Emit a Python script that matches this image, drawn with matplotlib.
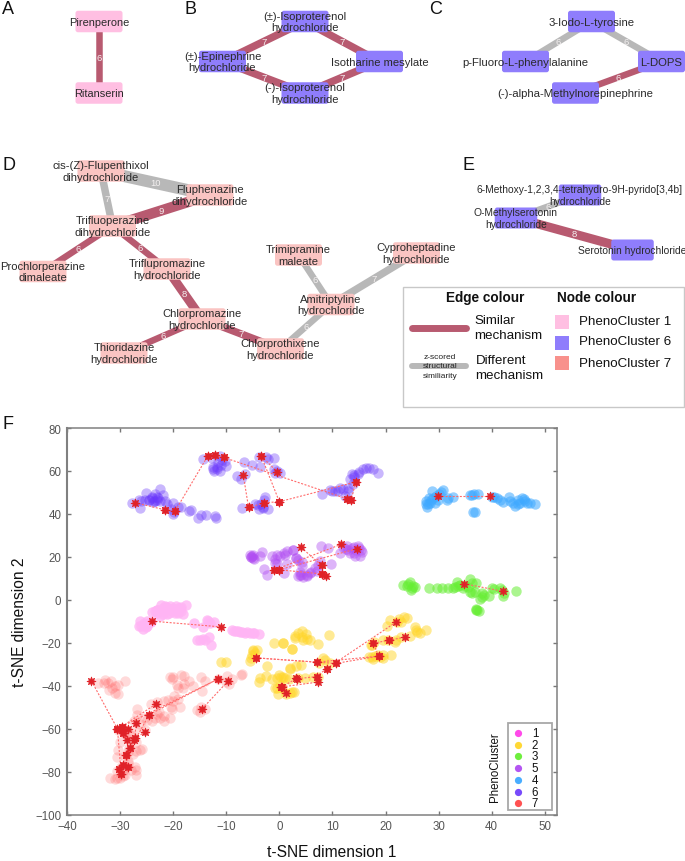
import matplotlib
matplotlib.use("Agg")
import matplotlib.pyplot as plt
from matplotlib.patches import FancyBboxPatch, Rectangle

plt.rcParams['font.family'] = ['Liberation Sans', 'DejaVu Sans']

# ---------- network data ----------
node_names_a = ["Pirenperone", "Ritanserin"]
node_x_a = [99, 99]
node_y_a = [22.5, 94]
edges_a = [(0, 1, 6, "s")]

node_names_b = ["(±)-Isoproterenol\nhydrochloride", "(±)-Epinephrine\nhydrochloride",
                "(-)-Isoproterenol\nhydrochloride", "Isotharine mesylate"]
node_x_b = [305, 222.5, 305, 379.5]
node_y_b = [22.5, 62.5, 94, 62.5]
edges_b = [(0, 1, 7, "s"), (1, 2, 7, "s"), (0, 3, 7, "s"), (2, 3, 7, "s")]

node_names_c = ["3-Iodo-L-tyrosine", "p-Fluoro-L-phenylalanine", "L-DOPS",
                "(-)-alpha-Methylnorepinephrine"]
node_x_c = [591.5, 525.5, 661.5, 575.5]
node_y_c = [22.5, 62.5, 62.5, 94]
edges_c = [(0, 1, 6, "d"), (0, 2, 6, "d"), (2, 3, 6, "s")]

node_names_d = ["cis-(Z)-Flupenthixol\ndihydrochloride", "Fluphenazine\ndihydrochloride",
                "Trifluoperazine\ndihydrochloride", "Prochlorperazine\ndimaleate",
                "Triflupromazine\nhydrochloride", "Chlorpromazine\nhydrochloride",
                "Thioridazine\nhydrochloride", "Chlorprothixene\nhydrochloride",
                "Amitriptyline\nhydrochloride", "Trimipramine\nmaleate",
                "Cyproheptadine\nhydrochloride"]
node_x_d = [101, 210, 112.5, 43, 167, 202, 124, 280.5, 331, 298.5, 416.5]
node_y_d = [172, 196, 227, 272.5, 270, 320, 354, 350, 305.5, 256, 254]
edges_d = [(0, 1, 10, "d"), (0, 2, 7, "d"), (1, 2, 9, "s"), (2, 3, 6, "s"), (2, 4, 6, "s"),
           (4, 5, 8, "s"), (5, 6, 6, "s"), (5, 7, 7, "s"), (7, 8, 6, "d"), (8, 9, 6, "d"),
           (8, 10, 7, "d")]

node_names_e = ["6-Methoxy-1,2,3,4-tetrahydro-9H-pyrido[3,4b]\nhydrochloride",
                "O-Methylserotonin\nhydrochloride", "Serotonin hydrochloride"]
node_x_e = [580, 516, 632.5]
node_y_e = [196, 219, 251]
edges_e = [(0, 1, 6, "d"), (1, 2, 8, "s")]

# ---------- t-SNE data ----------
tsne_c6_x = [-27.7,-26.4,-26.2,-25.2,-25.4,-24.0,-23.4,-22.5,-22.0,-23.1,-23.7,-21.5,-21.1,-20,-18.6,-20,-16.7,-17.1,-15.4,-14.8,-13.9,-12.1,-11.9,
             -14.3,-12.7,-11.2,-10.2,-10.9,-12.5,-11.8,-11.2,-12.4,-10,-8,-7.3,-6.5,-6.6,-5.1,-3.6,-3.8,-2.5,-2.2,-1,-1,0.1,
             -7,-4.6,-3.8,-2.7,-2.1,-3,8,9.6,10.5,11.4,13,12.4,13.6,13.3,14.9,15.8,16.8,17.7,18.5,14,-24.5,-22.8,-23.8,
             -24.5,-23.5,-24,-23,-22.5,-26,-20.5,-19,-19.8,-12.5,-11.8,-10.8,-11.5,-3,-4,-3.5,-2.8,10,11,12,13,13.8,14,15,16.3,-0.5,-0.8]
tsne_c6_y = [44.9,46.3,42.9,49.8,46.7,47.5,49.1,51.4,48.6,46.7,46,46,44.4,44.9,43.3,40.2,41.8,41.5,38.2,39.3,39.3,39,38.2,
             65.4,66.1,66.9,64.6,63,62,60.7,59.9,59.9,62.3,57.6,56.4,58.4,64.3,63,61.8,66.6,66.6,65.7,66.1,60.7,59.2,
             42.7,44.4,42.1,48,42.4,43.3,49.2,51,50.6,52,50.6,48.3,58.5,56.2,58.4,60.8,61.5,60.8,58.9,57,46.5,47.5,45.5,
             46.5,46,48,48,46,46,42.5,43,40.8,61,62,65,64,42.8,44,44.8,46.5,50.6,50.8,51.5,52,54,58,59.5,61.2,60,59]
tsne_c4_x = [27.8,27.6,28.7,30.9,28.4,29.3,29.9,31.8,32.8,35.9,36.6,37.5,36.4,36.9,41,42.2,43.3,44.4,45.7,46.3,45.3,48.1,47.2,28.0,29.0,40.5,
             27.7,28.2,28.6,29.5,30,31.5,36.2,41.5,40,44,45,45,46,43.5,46.7,30.5]
tsne_c4_y = [43.3,46,50.6,51,45.2,45.2,46.7,47.5,47.9,49,49.5,49.5,40.7,40.7,47.5,45.5,47.9,43.9,47.5,46,45.2,44.6,44.9,44.5,47.5,48,
             44.5,47.5,46.5,48.5,49.5,46.5,49,46.5,47.8,45,44.5,46.5,47,46.2,45,50]
tsne_c3_x = [23.2,24.6,24.9,25.6,28.2,29.7,30.6,31.8,32.8,33.7,33.4,36,37,36.2,38.1,39.4,37.8,37.3,37,40,41.6,42.2,44.6,24.0,35.5,
             24.3,25.2,24.8,33,34,35,34.5,36.3,35.9,36.9,40.5,42,42.3,38.2,37.1,37.6,38.6]
tsne_c3_y = [6.7,8.4,5.6,5.9,5.4,5.4,5.4,5.6,5.7,6.4,8.4,9.9,7.9,3.3,3.3,2,0.2,-4.8,-4.7,5.6,5.6,1.7,4.2,6.5,6,
             7.2,6.3,4.8,6,7,6.5,5.5,8,3.5,3.5,5,4.5,3,1.2,-4.2,-5,2.2]
tsne_c5_x = [-5.2,-5.5,-4.7,-3.3,-3.6,-1.4,-0.5,0.8,1.5,2.6,3.2,-2.9,-2.4,-0.5,1.5,3.6,0.8,2.5,3.1,4.2,4.5,5.8,6.7,7.7,7.8,9.2,9.8,12.7,13.6,14.9,15.5,14.3,13.3,11.4,15.2,-5.0,3.8,5.2,
             -5.3,-5,-5.4,-0.8,7.2,7,6,5.2,4,3.8,4.2,3.5,12,13,14,14.5,15,12.5,14,15.3,0.2,1,-0.8]
tsne_c5_y = [20.3,21,19,22.2,20.6,20.3,20.7,21.9,22.7,23,19.6,14.4,11.8,16.9,16.5,11,12.6,23.4,19.6,15.7,10.7,12.6,14.9,18,25.3,24.2,16.6,25,24.2,25.3,22.2,20.3,21.9,21.9,20.3,19.5,11.5,11.0,
             20,20.8,19.8,17,16,13.5,13,11.5,11.5,13,17.5,18.5,24.5,23,22,23,24,23.5,24.5,23,20.5,21,19]
tsne_c1_x = [-23.1,-22.2,-20.6,-19.4,-17.5,-18.1,-19.7,-21.2,-22.5,-21.6,-20.3,-26.5,-25.6,-26.2,-24.7,-16.1,-14.3,-13.6,-12.4,-9,-7.4,-5.5,-3.9,-15.6,-14.4,-13.2,-12.8,-21.4,-20.0,-18.8,-24.0,-8.2,-6.4,-4.7,-25.0,-23.0,
             -23.5,-23,-22.5,-22,-21.5,-21,-20,-19.5,-19,-18.5,-18.5,-20.8,-22,-19,-25.5,-26,-25.2,-24.2,-25,-13,-13.5,-8.5,-7.8,-7,-6,-5,-15,-14]
tsne_c1_y = [-4.5,-2.6,-3,-3,-2.2,-6.4,-6.1,-6.8,-7.6,-4.8,-5.3,-12.3,-13.5,-9.9,-11,-10.7,-12.6,-9.2,-10.4,-14.1,-15,-15.4,-15.7,-18.8,-18.1,-17.2,-20.8,-3.2,-4.2,-3.6,-5.5,-14.6,-15.2,-15.5,-12,-4.8,
             -5,-6,-5,-4,-3,-4,-4,-5,-4,-3.2,-5,-6.3,-6.5,-6.2,-11,-12.2,-12.8,-10.5,-9.7,-11,-10,-14.5,-14.6,-15,-15,-15.5,-18.5,-18.5]
tsne_c2_x = [-10.9,-10,-4.9,-5.5,-5.3,-4.3,-2.4,-1.1,0.6,2.3,2.9,2.1,3.2,-3.6,-3.8,-2.6,-1.3,0,-0.5,-0.3,1.1,2.3,
             20.9,22.1,23.5,22.9,20.2,25.6,26.5,27.7,24.6,17.2,19.6,21.8,16.8,17.7,19.6,21,9.4,7.2,5.8,4.2,3,4.5,2.3,0.6,2,4,8.3,9.6,4.9,6.3,2.8,
             -5,-5.2,-4.6,-0.8,0.5,0.2,-0.5,0.6,1.8,0.4,3.5,18,17.5,19,17.8,17.5,20.5,23,22,4.3,5,3.6,5.2,26,25.8,22.5,24,18.5,19.5,7.2,7.5,8.6,1.3,2]
tsne_c2_y = [-29,-29,-23.4,-28.5,-27,-23.4,-30.7,-20.3,-20,-22.8,-17.7,-32.1,-30.9,-36.3,-38.3,-35.5,-36.8,-34.8,-41,-44,-36.3,-43,
             -9.3,-10.5,-7.8,-10.5,-12.1,-12.4,-15.5,-14.1,-17,-21,-18.9,-19.4,-26.4,-27.6,-25.6,-25.6,-16.4,-20.6,-18.6,-14.7,-17,-18.6,-22.8,-20,-31.8,-30.5,-27.1,-29.5,-36.4,-36.1,-43.1,
             -24,-25.5,-24.5,-41,-41,-39.5,-36.5,-35.8,-37,-36,-36.5,-26,-26.8,-26.6,-19.8,-21,-18.5,-17.2,-18.5,-17.5,-16,-15.5,-18,-15,-14,-9,-8.5,-25.6,-27,-36,-29.5,-28,-44,-43.5]
tsne_c7_x = [-34.1,-32.8,-32.2,-31.6,-30.3,-29.1,-30.3,-26.9,-26.8,-23.4,-21.8,-21.8,-20.6,-21.8,-19.9,-20.9,-20.2,-18.7,-20.6,-18.6,-19.3,-18.1,-17.1,-16.2,-14.6,-14.8,-14,-7,-9.9,-9,-15.6,-30.3,-25.9,-27,-27,-31.9,-31,-29,-27.5,-30.6,
             -30.0,-28.0,-27.0,-26.2,-25.0,-28.5,-29.5,-24.0,-22.6,
             -29.5,-30.3,-29,-28.5,-29.2,-28.2,-27,-28.3,-27,-26.3,-29,-28.5,-29.8,-29,-28.5,-30.5,-29.5,-30,-28,-27.2,-30.6,-25.5,-23,-22.5,-20.5,-19,-20,-20.3,-17.9,-19,-33,-31.8,-31,-32,-31,-15,-14,-14.8,-11.5,-10,-9.5,-7.2,-20,-18,-25.3,-27.3,-24.2,-23]
tsne_c7_y = [-38.6,-37.4,-38.6,-41,-39.6,-37.9,-43.6,-50.6,-53.4,-54.9,-54.1,-56.5,-54.9,-47.2,-44.8,-46.4,-50.7,-49.8,-35.8,-34.9,-39.4,-41,-37.9,-40.2,-42.5,-35.7,-37.8,-34.3,-35.5,-36.8,-51.4,-69.7,-69.4,-79.3,-81.3,-82.8,-83.2,-81.7,-71.7,-73.3,
             -66.0,-63.0,-60.0,-58.0,-56.0,-75.0,-79.5,-56.5,-52.0,
             -60,-60.5,-60.5,-62,-62,-65,-66,-69,-70.2,-70,-72.5,-71,-78,-78,-76,-79.5,-82,-83,-79,-78,-82.8,-55,-53,-55,-50,-46,-47,-37,-39,-40.8,-38.5,-37.6,-40,-42,-43.5,-52,-51,-50,-37,-38,-39.2,-35,-36,-35.5,-60.5,-56.5,-48.7,-47.5]

cluster_ids = ["1", "2", "3", "5", "4", "6", "7"]
cluster_colors = ["#ff40e8", "#ffd62a", "#66ee33", "#b04cf2", "#3fa9ff", "#7040fb", "#ff4848"]
series_x = {"1": tsne_c1_x, "2": tsne_c2_x, "3": tsne_c3_x, "4": tsne_c4_x,
            "5": tsne_c5_x, "6": tsne_c6_x, "7": tsne_c7_x}
series_y = {"1": tsne_c1_y, "2": tsne_c2_y, "3": tsne_c3_y, "4": tsne_c4_y,
            "5": tsne_c5_y, "6": tsne_c6_y, "7": tsne_c7_y}

# red compound stars, connected pairs given as (x1, y1, x2, y2)
links_c6 = [(-27.2,45.2,-21.5,41.9),(-21.5,41.9,-19.6,41.5),(-19.6,41.5,-13.5,66.9),(-13.5,66.9,-12.1,67.5),
            (-12.1,67.5,-10.5,66.3),(-10.5,66.3,12.8,47),(12.8,47,13.5,46.3),(-6.8,58.2,-5.8,43),(-5.8,43,-2.8,45.2),
            (-2.8,45.2,0,45.7),(0,45.7,14.4,54.9),(14.4,54.9,13.5,46.3),(-3.4,66.9,0,45.7),(-3.4,66.9,-0.4,59.6)]
links_c4 = [(29.8,48.4,39.6,48.4)]
links_c3 = [(34.8,7.5,42.1,4)]
links_c1 = [(-24,-9.9,-10.9,-12.6)]
links_c5 = [(-1.1,13.8,-0.1,14),(-0.1,14,8,12.1),(8,12.1,8.7,11),(4.1,24.4,8,16),(-1.1,13.8,11.6,25.8),
            (-0.1,14,14.6,23.8),(8,16,8,12.1)]
links_c2 = [(-4.4,-27,7,-29),(-4.4,-27,10.6,-29.6),(0.4,-40.7,1.3,-43.3),(0.4,-40.7,3.2,-36.6),(0.5,-40.5,7.2,-38.3),
            (3.4,-36.7,7,-35.7),(7,-35.7,8.9,-32),(8.9,-32,21.9,-10.5),(10.6,-29.6,18.7,-26.2),(7,-29,18.7,-26.2),
            (18.7,-26.2,17.7,-20.2),(17.7,-20.2,20.6,-18.8),(20.6,-18.8,23.6,-17.4)]
links_c7 = [(-35.4,-37.7,-30.5,-60),(-30.5,-60,-29.7,-59),(-29.7,-59,-23.3,-48.6),(-29.7,-59,-11.6,-36.9),
            (-24.5,-53.4,-11.6,-36.9),(-9.7,-37.9,-14.5,-50.6),(-24.5,-53.4,-28.8,-72.3),(-30.5,-60,-29.8,-81),
            (-27.2,-64.3,-28.1,-68.9),(-28.1,-68.9,-28.8,-72.3),(-28.8,-72.3,-28.6,-77.8),(-28.6,-77.8,-29.4,-77),
            (-29.4,-77,-30.2,-78.5),(-30.2,-78.5,-29.8,-81),(-28.6,-59.9,-29.4,-61.9),(-29.4,-61.9,-28.7,-65.3),
            (-27,-57.1,-27.2,-64.3),(-25.3,-61.3,-27.4,-65.2)]
all_links = links_c6 + links_c4 + links_c3 + links_c1 + links_c5 + links_c2 + links_c7

xtick_vals = list(range(-40, 51, 10))
ytick_vals = list(range(-100, 81, 20))

# ---------- styles ----------
PINK, BLUE, SALMON = "#ffbfe2", "#8f7dfc", "#fac4c2"
EDGE_COL = {"s": "#b85a70", "d": "#b8b8b8"}
WIDTH_PX = {6: 6.5, 7: 7.5, 8: 9, 9: 10.5, 10: 12}
TXT = "#2a2a2a"
SCATTER_STYLE = {"1": ("#ffb4f4", 0.8), "2": ("#ffd62a", 0.5), "3": ("#66ee33", 0.55), "4": ("#3fa9ff", 0.55),
                 "5": ("#b04cf2", 0.42), "6": ("#6a38fb", 0.36), "7": ("#ff5a5a", 0.22)}

fig = plt.figure(figsize=(6.85, 8.62), dpi=100)

ax = fig.add_axes([67/685, (862-815.7)/862, 490/685, 386.7/862])
ax.set_xlim(-40, 52.3)
ax.set_ylim(-100, 80)
for lk in all_links:
    ax.plot([lk[0], lk[2]], [lk[1], lk[3]], color="#ff6a6a", lw=0.8, ls=(0, (1.8, 1.4)), zorder=3)
for cid in cluster_ids:
    col, a = SCATTER_STYLE[cid]
    ax.scatter(series_x[cid], series_y[cid], s=56, color=col, alpha=a, linewidths=0, zorder=2)
star_x, star_y = [], []
for lk in all_links:
    star_x += [lk[0], lk[2]]
    star_y += [lk[1], lk[3]]
ax.scatter(star_x, star_y, s=42, marker=(8, 1, 0), color="#e02228", linewidths=0.5,
           edgecolors="#e02228", zorder=4)
ax.set_xticks(xtick_vals)
ax.set_yticks(ytick_vals)
ax.tick_params(direction="in", length=3.2, width=1, color="#777777", labelcolor="#555555",
               labelsize=8.3, top=True, right=True, pad=4)
for s in ax.spines.values():
    s.set_color("#808080")
    s.set_linewidth(1.1)
ax.spines["left"].set_linewidth(1.5)
ax.set_xlabel("t-SNE dimension 1", fontsize=11.2, color="#111111")
ax.xaxis.set_label_coords((332-67)/490, -29/386.7)
ax.set_ylabel("t-SNE dimension 2", fontsize=11.2, color="#111111")
ax.yaxis.set_label_coords(-40/490, 0.5)

ov = fig.add_axes([0, 0, 1, 1], facecolor="none")
ov.set_xlim(0, 685)
ov.set_ylim(862, 0)
ov.axis("off")


def network(names, xs, ys, edges, color, w=47, h=21.5, fs=8.0):
    for i, j, v, kind in edges:
        ov.plot([xs[i], xs[j]], [ys[i], ys[j]], color=EDGE_COL[kind], lw=WIDTH_PX[v]*0.72,
                solid_capstyle="butt", zorder=1)
        ov.text((xs[i]+xs[j])/2, (ys[i]+ys[j])/2, str(v), color="#f4f0f0", fontsize=6.8,
                ha="center", va="center", zorder=2)
    for n, x, y in zip(names, xs, ys):
        ov.add_patch(FancyBboxPatch((x-w/2+1.5, y-h/2+1.5), w-3, h-3, boxstyle="round,pad=1.5,rounding_size=2.5",
                                    fc=color, ec="none", zorder=3))
        ov.text(x, y, n, ha="center", va="center", fontsize=fs, color=TXT, linespacing=1.22, zorder=4)


network(node_names_a, node_x_a, node_y_a, edges_a, PINK, fs=7.9)
network(node_names_b, node_x_b, node_y_b, edges_b, BLUE, fs=8.1)
network(node_names_c, node_x_c, node_y_c, edges_c, BLUE, fs=8.2)
network(node_names_d, node_x_d, node_y_d, edges_d, SALMON, fs=8.15)
network(node_names_e, node_x_e, node_y_e, edges_e, BLUE, w=42.5, h=21, fs=7.4)

for letter, lx, ly in [("A", 1.5, 10), ("B", 185, 10), ("C", 429, 10), ("D", 2, 165), ("E", 463, 165), ("F", 2, 425)]:
    ov.text(lx, ly, letter, fontsize=13, color="#111111", ha="left", va="center")

# panel legend
ov.add_patch(Rectangle((403, 287.5), 281, 120.5, fc="white", ec="#c8c8c8", lw=1, zorder=0.5))
ov.text(485, 298, "Edge colour", fontsize=9.8, weight="bold", ha="center", va="center", color="#111111")
ov.text(557, 298, "Node colour", fontsize=9.8, weight="bold", ha="left", va="center", color="#111111")
ov.plot([412, 466], [329, 329], color=EDGE_COL["s"], lw=5, solid_capstyle="round")
ov.plot([412, 466], [367, 367], color=EDGE_COL["d"], lw=4.3, solid_capstyle="round")
ov.text(474, 328.5, "Similar\nmechanism", fontsize=9.6, ha="left", va="center", linespacing=1.38, color="#111111")
ov.text(475.5, 368.5, "Different\nmechanism", fontsize=9.6, ha="left", va="center", linespacing=1.38, color="#111111")
ov.text(440, 367, "z-scored\nstructural\nsimiliarity", fontsize=6, ha="center", va="center", linespacing=1.45, color="#222222")
for sq_y, sq_c, sq_t, t_y in [(316, PINK, "PhenoCluster 1", 322), (336.5, BLUE, "PhenoCluster 6", 342.5),
                              (357, "#f8918c", "PhenoCluster 7", 364)]:
    ov.add_patch(Rectangle((555, sq_y), 14.5, 14, fc=sq_c, ec="none"))
    ov.text(579, t_y, sq_t, fontsize=9.6, ha="left", va="center", color="#111111")

# t-SNE legend
ov.add_patch(Rectangle((507.7, 724), 44, 86.7, fc="white", ec="#a8a8a8", lw=1.3, zorder=5))
leg_y = [734, 745.7, 757.3, 769.3, 781, 792.7, 804.3]
for cid, col, ly in zip(cluster_ids, cluster_colors, leg_y):
    ov.plot([518.3], [ly], "o", ms=5.2, color=col, mew=0, alpha=0.95, zorder=6)
    ov.text(535, ly, cid, fontsize=8.3, ha="center", va="center", color="#111111", zorder=6)
ov.text(495.5, 767, "PhenoCluster", rotation=90, fontsize=8.3, ha="center", va="center", color="#111111")

fig.savefig("out.png", dpi=100)
